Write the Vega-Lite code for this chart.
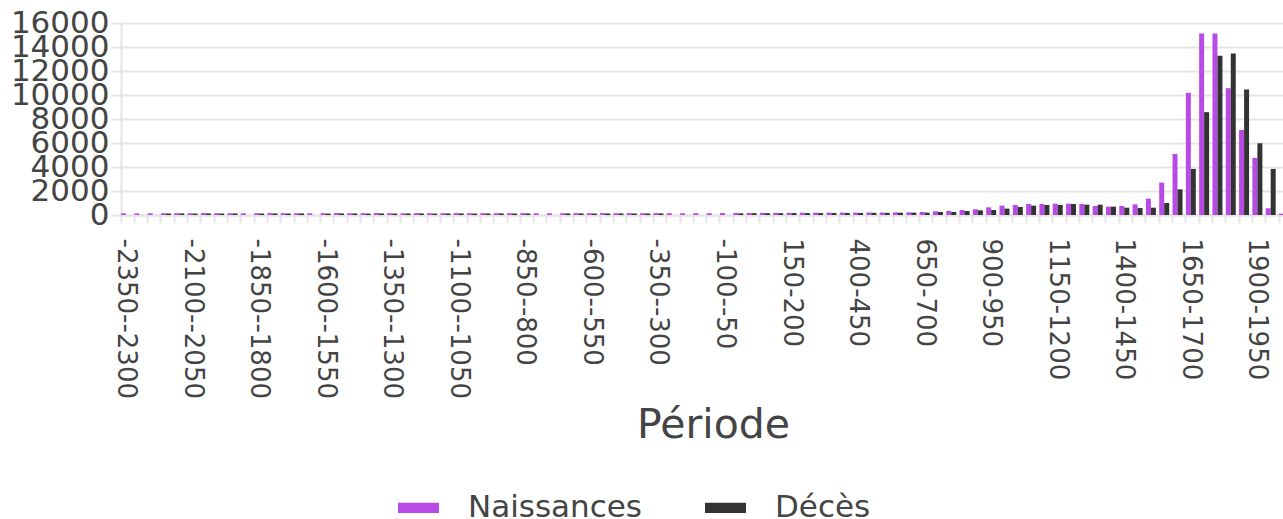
{
  "$schema": "https://vega.github.io/schema/vega-lite/v6.json",
  "autosize": {"type": "none"},
  "width": 1162,
  "height": 192,
  "padding": {"left": 121, "top": 23, "right": 0, "bottom": 304},
  "background": "white",
  "config": {"view": {"stroke": null}, "font": "DejaVu Sans"},
  "data": {"values": [
    {"p":"-2350--2300","s":"Naissances","n":140},
    {"p":"-2300--2250","s":"Naissances","n":130},
    {"p":"-2250--2200","s":"Naissances","n":140},
    {"p":"-2200--2150","s":"Naissances","n":150},{"p":"-2200--2150","s":"Décès","n":120},
    {"p":"-2150--2100","s":"Naissances","n":150},{"p":"-2150--2100","s":"Décès","n":130},
    {"p":"-2100--2050","s":"Naissances","n":150},{"p":"-2100--2050","s":"Décès","n":120},
    {"p":"-2050--2000","s":"Naissances","n":160},{"p":"-2050--2000","s":"Décès","n":130},
    {"p":"-2000--1950","s":"Naissances","n":150},{"p":"-2000--1950","s":"Décès","n":120},
    {"p":"-1950--1900","s":"Naissances","n":150},{"p":"-1950--1900","s":"Décès","n":130},
    {"p":"-1900--1850","s":"Naissances","n":140},
    {"p":"-1850--1800","s":"Naissances","n":150},{"p":"-1850--1800","s":"Décès","n":120},
    {"p":"-1800--1750","s":"Naissances","n":160},{"p":"-1800--1750","s":"Décès","n":130},
    {"p":"-1750--1700","s":"Naissances","n":150},{"p":"-1750--1700","s":"Décès","n":120},
    {"p":"-1700--1650","s":"Naissances","n":150},{"p":"-1700--1650","s":"Décès","n":130},
    {"p":"-1650--1600","s":"Naissances","n":140},
    {"p":"-1600--1550","s":"Naissances","n":150},{"p":"-1600--1550","s":"Décès","n":120},
    {"p":"-1550--1500","s":"Naissances","n":160},{"p":"-1550--1500","s":"Décès","n":130},
    {"p":"-1500--1450","s":"Naissances","n":150},{"p":"-1500--1450","s":"Décès","n":130},
    {"p":"-1450--1400","s":"Naissances","n":150},{"p":"-1450--1400","s":"Décès","n":120},
    {"p":"-1400--1350","s":"Naissances","n":160},{"p":"-1400--1350","s":"Décès","n":130},
    {"p":"-1350--1300","s":"Naissances","n":150},{"p":"-1350--1300","s":"Décès","n":120},
    {"p":"-1300--1250","s":"Naissances","n":150},{"p":"-1300--1250","s":"Décès","n":130},
    {"p":"-1250--1200","s":"Naissances","n":160},{"p":"-1250--1200","s":"Décès","n":130},
    {"p":"-1200--1150","s":"Naissances","n":150},{"p":"-1200--1150","s":"Décès","n":120},
    {"p":"-1150--1100","s":"Naissances","n":150},{"p":"-1150--1100","s":"Décès","n":130},
    {"p":"-1100--1050","s":"Naissances","n":160},{"p":"-1100--1050","s":"Décès","n":130},
    {"p":"-1050--1000","s":"Naissances","n":150},{"p":"-1050--1000","s":"Décès","n":120},
    {"p":"-1000--950","s":"Naissances","n":160},{"p":"-1000--950","s":"Décès","n":130},
    {"p":"-950--900","s":"Naissances","n":150},{"p":"-950--900","s":"Décès","n":130},
    {"p":"-900--850","s":"Naissances","n":150},{"p":"-900--850","s":"Décès","n":120},
    {"p":"-850--800","s":"Naissances","n":160},{"p":"-850--800","s":"Décès","n":130},
    {"p":"-800--750","s":"Naissances","n":140},
    {"p":"-750--700","s":"Naissances","n":140},
    {"p":"-700--650","s":"Naissances","n":150},{"p":"-700--650","s":"Décès","n":130},
    {"p":"-650--600","s":"Naissances","n":160},{"p":"-650--600","s":"Décès","n":130},
    {"p":"-600--550","s":"Naissances","n":150},{"p":"-600--550","s":"Décès","n":120},
    {"p":"-550--500","s":"Naissances","n":160},{"p":"-550--500","s":"Décès","n":130},
    {"p":"-500--450","s":"Naissances","n":150},{"p":"-500--450","s":"Décès","n":130},
    {"p":"-450--400","s":"Naissances","n":160},{"p":"-450--400","s":"Décès","n":120},
    {"p":"-400--350","s":"Naissances","n":150},{"p":"-400--350","s":"Décès","n":130},
    {"p":"-350--300","s":"Naissances","n":160},{"p":"-350--300","s":"Décès","n":130},
    {"p":"-300--250","s":"Naissances","n":150},
    {"p":"-250--200","s":"Naissances","n":140},
    {"p":"-200--150","s":"Naissances","n":150},
    {"p":"-150--100","s":"Naissances","n":150},
    {"p":"-100--50","s":"Naissances","n":160},
    {"p":"-50-0","s":"Naissances","n":170},{"p":"-50-0","s":"Décès","n":140},
    {"p":"0-50","s":"Naissances","n":170},{"p":"0-50","s":"Décès","n":150},
    {"p":"50-100","s":"Naissances","n":180},{"p":"50-100","s":"Décès","n":150},
    {"p":"100-150","s":"Naissances","n":180},{"p":"100-150","s":"Décès","n":150},
    {"p":"150-200","s":"Naissances","n":180},{"p":"150-200","s":"Décès","n":160},
    {"p":"200-250","s":"Naissances","n":190},{"p":"200-250","s":"Décès","n":160},
    {"p":"250-300","s":"Naissances","n":190},{"p":"250-300","s":"Décès","n":160},
    {"p":"300-350","s":"Naissances","n":200},{"p":"300-350","s":"Décès","n":170},
    {"p":"350-400","s":"Naissances","n":200},{"p":"350-400","s":"Décès","n":170},
    {"p":"400-450","s":"Naissances","n":200},{"p":"400-450","s":"Décès","n":170},
    {"p":"450-500","s":"Naissances","n":210},{"p":"450-500","s":"Décès","n":180},
    {"p":"500-550","s":"Naissances","n":210},{"p":"500-550","s":"Décès","n":180},
    {"p":"550-600","s":"Naissances","n":220},{"p":"550-600","s":"Décès","n":190},
    {"p":"600-650","s":"Naissances","n":225},{"p":"600-650","s":"Décès","n":195},
    {"p":"650-700","s":"Naissances","n":250},{"p":"650-700","s":"Décès","n":195},
    {"p":"700-750","s":"Naissances","n":305},{"p":"700-750","s":"Décès","n":250},
    {"p":"750-800","s":"Naissances","n":335},{"p":"750-800","s":"Décès","n":250},
    {"p":"800-850","s":"Naissances","n":415},{"p":"800-850","s":"Décès","n":335},
    {"p":"850-900","s":"Naissances","n":475},{"p":"850-900","s":"Décès","n":390},
    {"p":"900-950","s":"Naissances","n":640},{"p":"900-950","s":"Décès","n":415},
    {"p":"950-1000","s":"Naissances","n":780},{"p":"950-1000","s":"Décès","n":530},
    {"p":"1000-1050","s":"Naissances","n":835},{"p":"1000-1050","s":"Décès","n":670},
    {"p":"1050-1100","s":"Naissances","n":920},{"p":"1050-1100","s":"Décès","n":780},
    {"p":"1100-1150","s":"Naissances","n":920},{"p":"1100-1150","s":"Décès","n":835},
    {"p":"1150-1200","s":"Naissances","n":945},{"p":"1150-1200","s":"Décès","n":835},
    {"p":"1200-1250","s":"Naissances","n":945},{"p":"1200-1250","s":"Décès","n":920},
    {"p":"1250-1300","s":"Naissances","n":920},{"p":"1250-1300","s":"Décès","n":860},
    {"p":"1300-1350","s":"Naissances","n":750},{"p":"1300-1350","s":"Décès","n":860},
    {"p":"1350-1400","s":"Naissances","n":695},{"p":"1350-1400","s":"Décès","n":695},
    {"p":"1400-1450","s":"Naissances","n":750},{"p":"1400-1450","s":"Décès","n":610},
    {"p":"1450-1500","s":"Naissances","n":890},{"p":"1450-1500","s":"Décès","n":585},
    {"p":"1500-1550","s":"Naissances","n":1365},{"p":"1500-1550","s":"Décès","n":610},
    {"p":"1550-1600","s":"Naissances","n":2700},{"p":"1550-1600","s":"Décès","n":1000},
    {"p":"1600-1650","s":"Naissances","n":5090},{"p":"1600-1650","s":"Décès","n":2140},
    {"p":"1650-1700","s":"Naissances","n":10180},{"p":"1650-1700","s":"Décès","n":3840},
    {"p":"1700-1750","s":"Naissances","n":15130},{"p":"1700-1750","s":"Décès","n":8570},
    {"p":"1750-1800","s":"Naissances","n":15130},{"p":"1750-1800","s":"Décès","n":13270},
    {"p":"1800-1850","s":"Naissances","n":10570},{"p":"1800-1850","s":"Décès","n":13460},
    {"p":"1850-1900","s":"Naissances","n":7090},{"p":"1850-1900","s":"Décès","n":10460},
    {"p":"1900-1950","s":"Naissances","n":4760},{"p":"1900-1950","s":"Décès","n":5980},
    {"p":"1950-2000","s":"Naissances","n":560},{"p":"1950-2000","s":"Décès","n":3840},
    {"p":"2000-2050","s":"Naissances","n":110},{"p":"2000-2050","s":"Décès","n":40}
  ]},
  "mark": {"type": "bar"},
  "encoding": {
    "x": {
      "field": "p", "type": "nominal", "sort": null,
      "scale": {"range": [0, 1168], "paddingInner": 0.25, "paddingOuter": 0},
      "axis": {
        "title": "Période",
        "bandPosition": 0,
        "labelAngle": 90, "labelAlign": "left", "labelBaseline": "middle",
        "labelFont": "DejaVu Sans", "labelFontSize": 26, "labelColor": "#444444",
        "labelPadding": 15, "labelOverlap": false, "labelBound": false, "labelFlush": false,
        "labelExpr": "indexof(['-2350--2300','-2100--2050','-1850--1800','-1600--1550','-1350--1300','-1100--1050','-850--800','-600--550','-350--300','-100--50','150-200','400-450','650-700','900-950','1150-1200','1400-1450','1650-1700','1900-1950'], datum.value) >= 0 ? datum.value : ''",
        "ticks": true, "tickSize": 8, "tickColor": "#e5e5e5", "tickWidth": 2,
        "domain": true, "domainColor": "#e5e5e5", "domainWidth": 2,
        "grid": false,
        "titleFont": "DejaVu Sans", "titleFontSize": 41, "titleColor": "#444444", "titleFontWeight": "normal",
        "titleX": 592, "titleY": 222, "titleBaseline": "alphabetic", "titleAlign": "center"
      }
    },
    "xOffset": {"field": "s", "type": "nominal", "sort": ["Naissances", "Décès"], "scale": {"domain": ["Naissances", "Décès"]}},
    "y": {
      "field": "n", "type": "quantitative",
      "scale": {"domain": [0, 16000], "nice": false},
      "axis": {
        "title": null,
        "values": [0, 2000, 4000, 6000, 8000, 10000, 12000, 14000, 16000],
        "format": "d",
        "labelFont": "DejaVu Sans", "labelFontSize": 31, "labelColor": "#444444",
        "labelPadding": 2, "labelOverlap": false, "labelBound": false, "labelFlush": false,
        "tickSize": 10, "tickColor": "#e5e5e5", "tickWidth": 2,
        "domain": true, "domainColor": "#e5e5e5", "domainWidth": 2,
        "grid": true, "gridColor": "#e5e5e5", "gridWidth": 2
      }
    },
    "color": {
      "field": "s", "type": "nominal",
      "scale": {"domain": ["Naissances", "Décès"], "range": ["#b84ae6", "#333333"]},
      "legend": {
        "title": null, "orient": "none", "direction": "horizontal",
        "legendX": 277, "legendY": 464,
        "symbolType": "M-1,-0.25H1V0.25H-1Z", "symbolSize": 1681,
        "symbolStrokeWidth": 0, "symbolOpacity": 1,
        "labelFont": "DejaVu Sans", "labelFontSize": 31, "labelColor": "#444444",
        "labelLimit": 0,
        "labelOffset": 29, "columnPadding": 62, "padding": 0
      }
    }
  }
}
